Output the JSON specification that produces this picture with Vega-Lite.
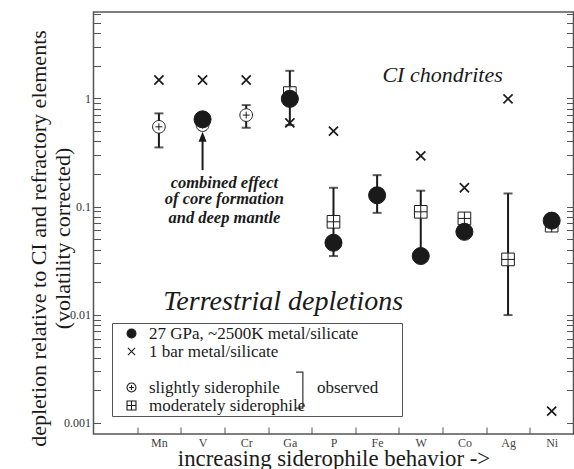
{
  "$schema": "https://vega.github.io/schema/vega-lite/v6.json",
  "width": 480,
  "height": 422,
  "autosize": {"type": "none"},
  "padding": {"left": 93.5, "top": 12, "right": 0, "bottom": 35},
  "background": "white",
  "config": {
    "font": "Liberation Serif",
    "view": {"stroke": "#555", "strokeWidth": 1.5},
    "axis": {
      "domain": false, "grid": false, "tickColor": "#555", "tickWidth": 1, "tickSize": -7,
      "labelFont": "Liberation Serif", "labelFontSize": 12, "labelColor": "#333",
      "titleFont": "Liberation Serif", "titleFontSize": 22, "titleFontWeight": "normal", "titleColor": "#1a1a1a"
    },
    "legend": {
      "strokeColor": "#555", "strokeWidth": 1, "padding": 2,
      "symbolOffset": 9, "labelOffset": 9, "rowPadding": 0, "labelLimit": 300,
      "labelFont": "Liberation Serif", "labelFontSize": 17, "labelColor": "#1a1a1a",
      "symbolSize": 80, "symbolStrokeWidth": 1.1
    }
  },
  "datasets": {
    "points": [
      {"el": "Mn", "series": "slightly siderophile", "v": 0.546},
      {"el": "V", "series": "slightly siderophile", "v": 0.566},
      {"el": "Cr", "series": "slightly siderophile", "v": 0.701},
      {"el": "Ga", "series": "moderately siderophile", "v": 1.12},
      {"el": "P", "series": "moderately siderophile", "v": 0.0722},
      {"el": "W", "series": "moderately siderophile", "v": 0.0893},
      {"el": "Co", "series": "moderately siderophile", "v": 0.0776},
      {"el": "Ag", "series": "moderately siderophile", "v": 0.0324},
      {"el": "Ni", "series": "moderately siderophile", "v": 0.0665},
      {"el": "Mn", "series": "1 bar metal/silicate", "v": 1.48},
      {"el": "V", "series": "1 bar metal/silicate", "v": 1.48},
      {"el": "Cr", "series": "1 bar metal/silicate", "v": 1.48},
      {"el": "Ga", "series": "1 bar metal/silicate", "v": 0.594},
      {"el": "P", "series": "1 bar metal/silicate", "v": 0.498},
      {"el": "W", "series": "1 bar metal/silicate", "v": 0.294},
      {"el": "Co", "series": "1 bar metal/silicate", "v": 0.149},
      {"el": "Ag", "series": "1 bar metal/silicate", "v": 0.99},
      {"el": "Ni", "series": "1 bar metal/silicate", "v": 0.00128},
      {"el": "V", "series": "27 GPa, ~2500K metal/silicate", "v": 0.64},
      {"el": "Ga", "series": "27 GPa, ~2500K metal/silicate", "v": 0.99},
      {"el": "P", "series": "27 GPa, ~2500K metal/silicate", "v": 0.0462},
      {"el": "Fe", "series": "27 GPa, ~2500K metal/silicate", "v": 0.127},
      {"el": "W", "series": "27 GPa, ~2500K metal/silicate", "v": 0.0348},
      {"el": "Co", "series": "27 GPa, ~2500K metal/silicate", "v": 0.0583},
      {"el": "Ni", "series": "27 GPa, ~2500K metal/silicate", "v": 0.074}
    ],
    "errors": [
      {"el": "Mn", "lo": 0.352, "hi": 0.727},
      {"el": "Cr", "lo": 0.535, "hi": 0.867},
      {"el": "Ga", "lo": 0.566, "hi": 1.8},
      {"el": "P", "lo": 0.0348, "hi": 0.149},
      {"el": "Fe", "lo": 0.0874, "hi": 0.195},
      {"el": "W", "lo": 0.036, "hi": 0.14},
      {"el": "Ag", "lo": 0.0099, "hi": 0.132}
    ]
  },
  "layer": [
    {
      "mark": {"type": "rule", "strokeDash": [6, 4], "color": "#1a1a1a", "strokeWidth": 1},
      "encoding": {
        "y": {
          "datum": 1, "type": "quantitative",
          "scale": {"type": "log", "domain": [0.000786, 6.3], "nice": false},
          "axis": {
            "orient": "right", "labels": false, "title": null,
            "values": [0.001, 0.002, 0.003, 0.004, 0.005, 0.006, 0.007, 0.008, 0.009, 0.01, 0.02, 0.03, 0.04, 0.05, 0.06, 0.07, 0.08, 0.09, 0.1, 0.2, 0.3, 0.4, 0.5, 0.6, 0.7, 0.8, 0.9, 1, 2, 3, 4, 5, 6]
          }
        }
      }
    },
    {
      "layer": [
        {
          "data": {"name": "errors"},
          "mark": {"type": "rule", "color": "#1a1a1a", "strokeWidth": 2},
          "encoding": {
            "x": {
              "field": "el", "type": "nominal",
              "scale": {"domain": ["Mn", "V", "Cr", "Ga", "P", "Fe", "W", "Co", "Ag", "Ni"], "range": [43.6, 480], "paddingInner": 0, "paddingOuter": 0},
              "axis": {
                "title": "increasing siderophile behavior ->", "tickBand": "extent", "labelAngle": 0,
                "labelPadding": 10.5, "labelBaseline": "top", "labelColor": "#444",
                "titleX": 240, "titleAlign": "center", "titleY": 31, "titleBaseline": "alphabetic",
                "titleFont": "Liberation Serif", "titleFontSize": 22.8
              }
            },
            "y": {
              "field": "lo", "type": "quantitative",
              "scale": {"type": "log", "domain": [0.000786, 6.3], "nice": false},
              "axis": {
                "title": ["depletion relative to CI and refractory elements", "(volatility corrected)"],
                "values": [0.001, 0.002, 0.003, 0.004, 0.005, 0.006, 0.007, 0.008, 0.009, 0.01, 0.02, 0.03, 0.04, 0.05, 0.06, 0.07, 0.08, 0.09, 0.1, 0.2, 0.3, 0.4, 0.5, 0.6, 0.7, 0.8, 0.9, 1, 2, 3, 4, 5, 6],
                "labelExpr": "datum.value === 1 ? '1' : datum.value === 0.1 ? '0.1' : datum.value === 0.01 ? '0.01' : datum.value === 0.001 ? '0.001' : ''",
                "labelPadding": 10, "labelBaseline": "middle",
                "titleFont": "Liberation Serif", "titleFontSize": 22,
                "titleX": -55.5, "titleY": 226, "titleAngle": -90, "titleAlign": "center",
                "titleBaseline": "middle", "titleLineHeight": 24
              }
            },
            "y2": {"field": "hi"}
          }
        },
        {
          "data": {"name": "errors"},
          "mark": {"type": "tick", "color": "#1a1a1a", "size": 9, "thickness": 2},
          "encoding": {
            "x": {"field": "el", "type": "nominal", "scale": {"domain": ["Mn", "V", "Cr", "Ga", "P", "Fe", "W", "Co", "Ag", "Ni"], "range": [43.6, 480], "paddingInner": 0, "paddingOuter": 0}},
            "y": {"field": "lo", "type": "quantitative", "scale": {"type": "log", "domain": [0.000786, 6.3], "nice": false}}
          }
        },
        {
          "data": {"name": "errors"},
          "mark": {"type": "tick", "color": "#1a1a1a", "size": 9, "thickness": 2},
          "encoding": {
            "x": {"field": "el", "type": "nominal", "scale": {"domain": ["Mn", "V", "Cr", "Ga", "P", "Fe", "W", "Co", "Ag", "Ni"], "range": [43.6, 480], "paddingInner": 0, "paddingOuter": 0}},
            "y": {"field": "hi", "type": "quantitative", "scale": {"type": "log", "domain": [0.000786, 6.3], "nice": false}}
          }
        },
        {
          "data": {"values": [{"el": "V", "from": 0.217, "to": 0.41}]},
          "mark": {"type": "rule", "color": "#1a1a1a", "strokeWidth": 2},
          "encoding": {
            "x": {"field": "el", "type": "nominal", "scale": {"domain": ["Mn", "V", "Cr", "Ga", "P", "Fe", "W", "Co", "Ag", "Ni"], "range": [43.6, 480], "paddingInner": 0, "paddingOuter": 0}},
            "y": {"field": "from", "type": "quantitative", "scale": {"type": "log", "domain": [0.000786, 6.3], "nice": false}},
            "y2": {"field": "to"}
          }
        },
        {
          "data": {"values": [{"el": "V", "tip": 0.441}]},
          "mark": {"type": "point", "shape": "M0,-1L-0.8,1L0.8,1Z", "filled": true, "size": 100, "color": "#1a1a1a", "opacity": 1},
          "encoding": {
            "x": {"field": "el", "type": "nominal", "scale": {"domain": ["Mn", "V", "Cr", "Ga", "P", "Fe", "W", "Co", "Ag", "Ni"], "range": [43.6, 480], "paddingInner": 0, "paddingOuter": 0}},
            "y": {"field": "tip", "type": "quantitative", "scale": {"type": "log", "domain": [0.000786, 6.3], "nice": false}}
          }
        },
        {
          "data": {"name": "points"},
          "transform": [{"filter": "datum.series === 'slightly siderophile' || datum.series === 'moderately siderophile'"}],
          "mark": {"type": "point", "filled": true, "size": 160, "strokeWidth": 1, "opacity": 1},
          "encoding": {
            "x": {"field": "el", "type": "nominal", "scale": {"domain": ["Mn", "V", "Cr", "Ga", "P", "Fe", "W", "Co", "Ag", "Ni"], "range": [43.6, 480], "paddingInner": 0, "paddingOuter": 0}},
            "y": {"field": "v", "type": "quantitative", "scale": {"type": "log", "domain": [0.000786, 6.3], "nice": false}},
            "shape": {
              "field": "series", "type": "nominal",
              "scale": {
                "domain": ["27 GPa, ~2500K metal/silicate", "1 bar metal/silicate", "\u200b\u00a0\u00a0\u00a0\u00a0\u00a0\u00a0\u00a0\u00a0\u00a0\u00a0\u00a0\u00a0\u00a0\u00a0\u00a0\u00a0\u00a0\u00a0\u00a0\u00a0\u00a0\u00a0\u00a0\u00a0\u00a0\u00a0\u00a0\u00a0\u00a0\u00a0\u00a0\u00a0\u00a0\u00a0\u00a0\u00a0\u00a0\u00a0\u00a0\u00a0\u00a0\u00a0\u00a0\u00a0\u00a0\u00a0\u00a0\u00a0\u00a0\u00a0\u00a0\u00a0\u00a0\u00a0\u00a0\u00a0\u00a0\u00a0\u00a0\u200b", "slightly siderophile", "moderately siderophile"],
                "range": ["circle", "M-0.8,-0.8L0.8,0.8M-0.8,0.8L0.8,-0.8", "M0,0", "M-1,0A1,1,0,1,1,1,0A1,1,0,1,1,-1,0ZM-0.55,0H0.55M0,-0.55V0.55", "M-1,-1H1V1H-1ZM-1,0H1M0,-1V1"]
              },
              "legend": {"title": null, "orient": "none", "legendX": 18.5, "legendY": 311}
            },
            "fill": {
              "field": "series", "type": "nominal",
              "scale": {
                "domain": ["27 GPa, ~2500K metal/silicate", "1 bar metal/silicate", "\u200b\u00a0\u00a0\u00a0\u00a0\u00a0\u00a0\u00a0\u00a0\u00a0\u00a0\u00a0\u00a0\u00a0\u00a0\u00a0\u00a0\u00a0\u00a0\u00a0\u00a0\u00a0\u00a0\u00a0\u00a0\u00a0\u00a0\u00a0\u00a0\u00a0\u00a0\u00a0\u00a0\u00a0\u00a0\u00a0\u00a0\u00a0\u00a0\u00a0\u00a0\u00a0\u00a0\u00a0\u00a0\u00a0\u00a0\u00a0\u00a0\u00a0\u00a0\u00a0\u00a0\u00a0\u00a0\u00a0\u00a0\u00a0\u00a0\u00a0\u200b", "slightly siderophile", "moderately siderophile"],
                "range": ["#1a1a1a", "white", "white", "white", "white"]
              },
              "legend": {"title": null, "orient": "none", "legendX": 18.5, "legendY": 311}
            },
            "stroke": {
              "field": "series", "type": "nominal",
              "scale": {
                "domain": ["27 GPa, ~2500K metal/silicate", "1 bar metal/silicate", "\u200b\u00a0\u00a0\u00a0\u00a0\u00a0\u00a0\u00a0\u00a0\u00a0\u00a0\u00a0\u00a0\u00a0\u00a0\u00a0\u00a0\u00a0\u00a0\u00a0\u00a0\u00a0\u00a0\u00a0\u00a0\u00a0\u00a0\u00a0\u00a0\u00a0\u00a0\u00a0\u00a0\u00a0\u00a0\u00a0\u00a0\u00a0\u00a0\u00a0\u00a0\u00a0\u00a0\u00a0\u00a0\u00a0\u00a0\u00a0\u00a0\u00a0\u00a0\u00a0\u00a0\u00a0\u00a0\u00a0\u00a0\u00a0\u00a0\u00a0\u200b", "slightly siderophile", "moderately siderophile"],
                "range": ["#1a1a1a", "#1a1a1a", "transparent", "#1a1a1a", "#1a1a1a"]
              },
              "legend": {"title": null, "orient": "none", "legendX": 18.5, "legendY": 311}
            }
          }
        },
        {
          "data": {"name": "points"},
          "transform": [{"filter": "datum.series === '1 bar metal/silicate'"}],
          "mark": {"type": "point", "filled": true, "size": 130, "strokeWidth": 1.7, "opacity": 1},
          "encoding": {
            "x": {"field": "el", "type": "nominal", "scale": {"domain": ["Mn", "V", "Cr", "Ga", "P", "Fe", "W", "Co", "Ag", "Ni"], "range": [43.6, 480], "paddingInner": 0, "paddingOuter": 0}},
            "y": {"field": "v", "type": "quantitative", "scale": {"type": "log", "domain": [0.000786, 6.3], "nice": false}},
            "shape": {"field": "series", "type": "nominal"},
            "fill": {"field": "series", "type": "nominal"},
            "stroke": {"field": "series", "type": "nominal"}
          }
        },
        {
          "data": {"name": "points"},
          "transform": [{"filter": "datum.series === '27 GPa, ~2500K metal/silicate'"}],
          "mark": {"type": "point", "filled": true, "size": 290, "strokeWidth": 1, "opacity": 1},
          "encoding": {
            "x": {"field": "el", "type": "nominal", "scale": {"domain": ["Mn", "V", "Cr", "Ga", "P", "Fe", "W", "Co", "Ag", "Ni"], "range": [43.6, 480], "paddingInner": 0, "paddingOuter": 0}},
            "y": {"field": "v", "type": "quantitative", "scale": {"type": "log", "domain": [0.000786, 6.3], "nice": false}},
            "shape": {"field": "series", "type": "nominal"},
            "fill": {"field": "series", "type": "nominal"},
            "stroke": {"field": "series", "type": "nominal"}
          }
        },
        {
          "data": {"values": [{"el": "W", "v": 1.416, "t": "CI chondrites"}]},
          "mark": {"type": "text", "font": "Liberation Serif", "fontStyle": "italic", "fontSize": 22, "align": "center", "baseline": "alphabetic", "color": "#1a1a1a"},
          "encoding": {
            "x": {"field": "el", "type": "nominal", "bandPosition": 1, "scale": {"domain": ["Mn", "V", "Cr", "Ga", "P", "Fe", "W", "Co", "Ag", "Ni"], "range": [43.6, 480], "paddingInner": 0, "paddingOuter": 0}},
            "y": {"field": "v", "type": "quantitative", "scale": {"type": "log", "domain": [0.000786, 6.3], "nice": false}},
            "text": {"field": "t"}
          }
        },
        {
          "data": {"values": [
            {"el": "V", "v": 0.149, "t": "combined effect"},
            {"el": "V", "v": 0.1052, "t": "of core formation"},
            {"el": "V", "v": 0.0698, "t": "and deep mantle"}
          ]},
          "mark": {"type": "text", "font": "Liberation Serif", "fontStyle": "italic", "fontWeight": "bold", "fontSize": 16.5, "align": "center", "baseline": "alphabetic", "color": "#1a1a1a"},
          "encoding": {
            "x": {"field": "el", "type": "nominal", "bandPosition": 1, "scale": {"domain": ["Mn", "V", "Cr", "Ga", "P", "Fe", "W", "Co", "Ag", "Ni"], "range": [43.6, 480], "paddingInner": 0, "paddingOuter": 0}},
            "y": {"field": "v", "type": "quantitative", "scale": {"type": "log", "domain": [0.000786, 6.3], "nice": false}},
            "text": {"field": "t"}
          }
        },
        {
          "data": {"values": [{"el": "Ga", "v": 0.011, "t": "Terrestrial depletions"}]},
          "mark": {"type": "text", "font": "Liberation Serif", "fontStyle": "italic", "fontSize": 28, "align": "center", "baseline": "alphabetic", "color": "#1a1a1a"},
          "encoding": {
            "x": {"field": "el", "type": "nominal", "bandPosition": 0.35, "scale": {"domain": ["Mn", "V", "Cr", "Ga", "P", "Fe", "W", "Co", "Ag", "Ni"], "range": [43.6, 480], "paddingInner": 0, "paddingOuter": 0}},
            "y": {"field": "v", "type": "quantitative", "scale": {"type": "log", "domain": [0.000786, 6.3], "nice": false}},
            "text": {"field": "t"}
          }
        },
        {
          "data": {"values": [{"el": "P", "v": 0.00189, "t": "observed"}]},
          "mark": {"type": "text", "font": "Liberation Serif", "fontSize": 17, "align": "left", "baseline": "alphabetic", "color": "#1a1a1a"},
          "encoding": {
            "x": {"field": "el", "type": "nominal", "bandPosition": 0.12, "scale": {"domain": ["Mn", "V", "Cr", "Ga", "P", "Fe", "W", "Co", "Ag", "Ni"], "range": [43.6, 480], "paddingInner": 0, "paddingOuter": 0}},
            "y": {"field": "v", "type": "quantitative", "scale": {"type": "log", "domain": [0.000786, 6.3], "nice": false}},
            "text": {"field": "t"}
          }
        },
        {
          "data": {"values": [{"el": "Ga", "v": 0.002}]},
          "mark": {"type": "point", "shape": "M-0.19,-1H0.19V1H-0.19", "filled": false, "size": 1296, "stroke": "#333", "strokeWidth": 1.2, "opacity": 1},
          "encoding": {
            "x": {"field": "el", "type": "nominal", "bandPosition": 0.72, "scale": {"domain": ["Mn", "V", "Cr", "Ga", "P", "Fe", "W", "Co", "Ag", "Ni"], "range": [43.6, 480], "paddingInner": 0, "paddingOuter": 0}},
            "y": {"field": "v", "type": "quantitative", "scale": {"type": "log", "domain": [0.000786, 6.3], "nice": false}}
          }
        }
      ]
    }
  ],
  "resolve": {"scale": {"y": "independent"}, "axis": {"y": "independent"}}
}
